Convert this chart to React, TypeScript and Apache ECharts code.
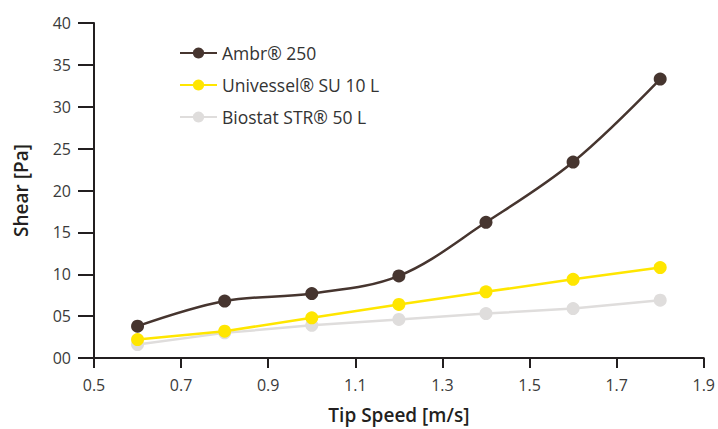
import React, { useEffect, useRef } from "react";
import * as echarts from "echarts";

const tipSpeed = [0.6, 0.8, 1.0, 1.2, 1.4, 1.6, 1.8];
const ambr250 = [3.8, 6.8, 7.7, 9.8, 16.2, 23.4, 33.3];
const univessel = [2.2, 3.2, 4.8, 6.4, 7.9, 9.4, 10.8];
const biostat = [1.6, 3.0, 3.9, 4.6, 5.3, 5.9, 6.9];
const seriesNames = ["Ambr® 250", "Univessel® SU 10 L", "Biostat STR® 50 L"];
const xOffset = 0.5;

const FONT = "'Open Sans', Lato, sans-serif";

export default function App() {
  const ref = useRef<HTMLDivElement>(null);
  useEffect(() => {
    if (!ref.current) return;
    const chart = echarts.init(ref.current, undefined, { renderer: "svg" });
    const toData = (ys: number[]) => tipSpeed.map((x, i) => [+(x - xOffset).toFixed(2), ys[i]]);
    const mk = (name: string, ys: number[], color: string, smooth: number | boolean, z: number) => ({
      name,
      type: "line",
      data: toData(ys),
      smooth,
      symbol: "circle",
      symbolSize: 13,
      z,
      lineStyle: { color, width: 2.5 },
      itemStyle: { color },
    });
    chart.setOption({
      animation: false,
      textStyle: { fontFamily: FONT },
      grid: { left: 94, right: 13, top: 23, bottom: 71, containLabel: false },
      legend: {
        orient: "vertical",
        left: 174,
        top: 39,
        itemGap: 14,
        itemWidth: 37,
        itemHeight: 14,
        textStyle: { fontSize: 17.5, color: "#333", fontFamily: FONT, padding: [0, 0, 0, 0] },
        data: seriesNames,
      },
      xAxis: {
        type: "value",
        min: 0,
        max: 1.4,
        interval: 0.2,
        name: "Tip Speed [m/s]",
        nameLocation: "middle",
        nameGap: 47,
        nameTextStyle: { fontSize: 19, color: "#231f20", fontWeight: 600, fontFamily: FONT },
        axisLine: { lineStyle: { color: "#231f20", width: 2 } },
        axisTick: { length: 10, lineStyle: { color: "#231f20", width: 2 } },
        axisLabel: {
          margin: 19,
          fontSize: 16,
          color: "#3a3a3a",
          fontFamily: FONT,
          formatter: (v: number) => (v + xOffset).toFixed(1),
        },
        splitLine: { show: false },
      },
      yAxis: {
        type: "value",
        min: 0,
        max: 40,
        interval: 5,
        name: "Shear [Pa]",
        nameLocation: "middle",
        nameGap: 64,
        nameTextStyle: { fontSize: 19, color: "#231f20", fontWeight: 600, fontFamily: FONT },
        axisLine: { lineStyle: { color: "#231f20", width: 2 } },
        axisTick: { length: 16, lineStyle: { color: "#231f20", width: 2 } },
        axisLabel: {
          margin: 23,
          fontSize: 16,
          color: "#3a3a3a",
          fontFamily: FONT,
          formatter: (v: number) => String(v).padStart(2, "0"),
        },
        splitLine: { show: false },
      },
      series: [
        mk(seriesNames[0], ambr250, "#46352f", 0.35, 4),
        mk(seriesNames[1], univessel, "#ffe600", false, 3),
        mk(seriesNames[2], biostat, "#dfdddc", false, 2),
      ],
    });
    return () => chart.dispose();
  }, []);
  return <div ref={ref} style={{ width: 718, height: 429, position: "absolute", left: 0, top: 0 }} />;
}
